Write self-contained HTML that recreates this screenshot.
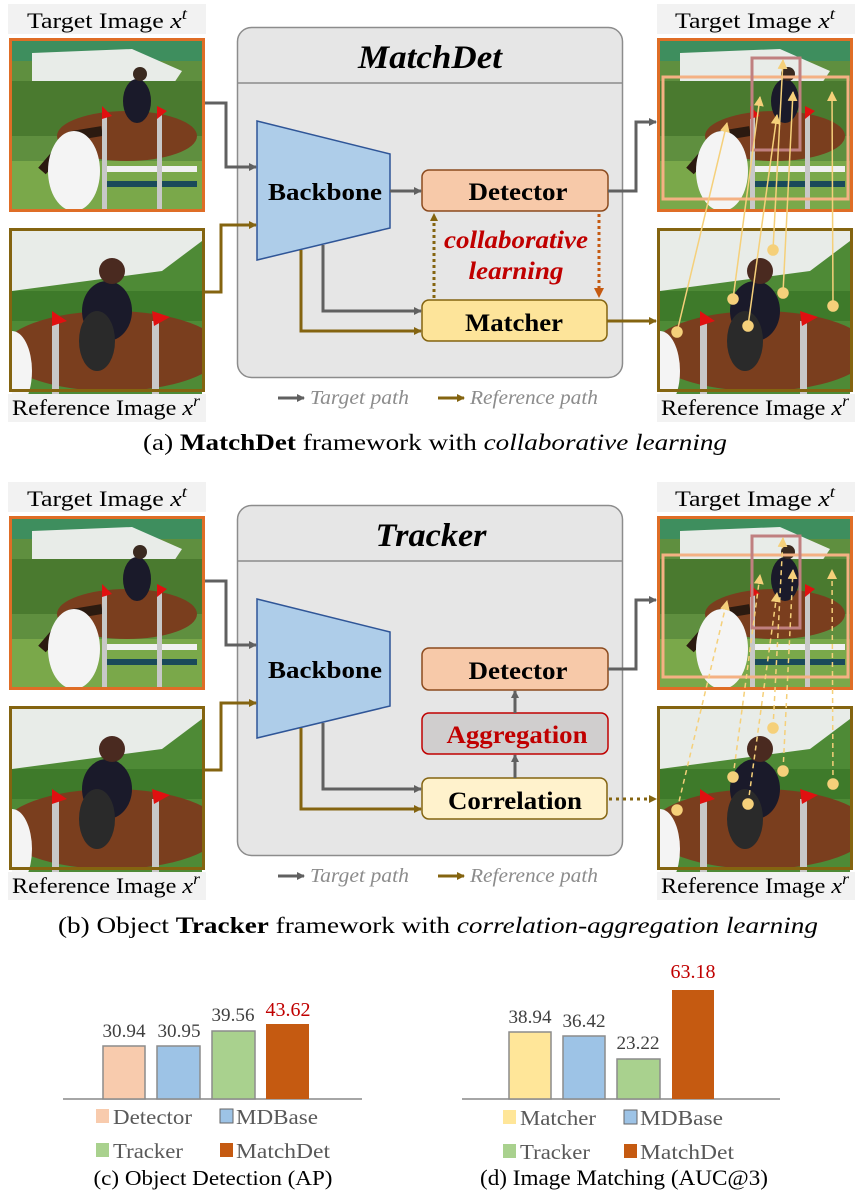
<!DOCTYPE html>
<html><head><meta charset="utf-8"><style>
html,body{margin:0;padding:0;background:#fff;}
svg{display:block;font-family:"Liberation Serif",serif;}
</style></head><body>
<svg width="859" height="1194" viewBox="0 0 859 1194" xmlns="http://www.w3.org/2000/svg">
<defs>
<marker id="ag" markerWidth="8" markerHeight="8" refX="7" refY="4" orient="auto" markerUnits="userSpaceOnUse"><path d="M0,0 L8,4 L0,8 z" fill="#606060"/></marker>
<marker id="ao" markerWidth="8" markerHeight="8" refX="7" refY="4" orient="auto" markerUnits="userSpaceOnUse"><path d="M0,0 L8,4 L0,8 z" fill="#846410"/></marker>
<marker id="ar" markerWidth="10" markerHeight="10" refX="9" refY="5" orient="auto" markerUnits="userSpaceOnUse"><path d="M0,0 L10,5 L0,10 z" fill="#c55a11"/></marker>
<marker id="ay" markerWidth="10" markerHeight="10" refX="9" refY="5" orient="auto" markerUnits="userSpaceOnUse"><path d="M0,0 L10,5 L0,10 z" fill="#f5d07a"/></marker>
<clipPath id="cp"><rect x="0" y="0" width="190" height="168"/></clipPath>
<g id="phT">
 <g clip-path="url(#cp)">
 <rect width="190" height="168" fill="#5f8f3f"/>
 <rect width="190" height="20" fill="#3e8e5e"/>
 <polygon points="20,12 120,8 170,30 160,45 40,50 20,40" fill="#e8ece8"/>
 <rect x="0" y="40" width="190" height="55" fill="#4a7a2f"/>
 <rect x="0" y="120" width="190" height="48" fill="#7aa84a"/>
 <ellipse cx="115" cy="95" rx="70" ry="25" fill="#7a3e1e"/>
 <path d="M30,130 L60,95 L90,90" stroke="#2b1a10" stroke-width="10" fill="none"/>
 <ellipse cx="125" cy="60" rx="14" ry="22" fill="#1a1a2a"/>
 <circle cx="128" cy="33" r="7" fill="#3a2a20"/>
 <ellipse cx="62" cy="130" rx="26" ry="40" fill="#f4f4f4"/>
 <rect x="95" y="125" width="90" height="6" fill="#f0f0f0"/>
 <rect x="95" y="140" width="90" height="6" fill="#1a4a5a"/>
 <rect x="90" y="70" width="5" height="98" fill="#c8c8c8"/>
 <rect x="145" y="70" width="5" height="98" fill="#c8c8c8"/>
 <polygon points="90,65 100,75 90,78" fill="#e01010"/>
 <polygon points="145,65 155,70 145,78" fill="#e01010"/>
 </g>
</g>
<g id="phR">
 <g clip-path="url(#cp)">
 <rect width="190" height="168" fill="#4e8a36"/>
 <polygon points="0,0 190,0 190,10 150,40 0,60" fill="#e8ece8"/>
 <rect x="0" y="60" width="190" height="30" fill="#3e7a2a"/>
 <ellipse cx="100" cy="120" rx="110" ry="40" fill="#7a3e1e"/>
 <ellipse cx="95" cy="80" rx="25" ry="30" fill="#1a1a2a"/>
 <circle cx="100" cy="40" r="13" fill="#4a2a20"/>
 <ellipse cx="85" cy="110" rx="18" ry="30" fill="#2a2a2a"/>
 <ellipse cx="0" cy="140" rx="20" ry="40" fill="#f4f4f4"/>
 <rect x="40" y="90" width="7" height="78" fill="#c8c8c8"/>
 <rect x="140" y="90" width="7" height="78" fill="#c8c8c8"/>
 <polygon points="40,80 55,90 40,95" fill="#e01010"/>
 <polygon points="140,80 158,86 142,95" fill="#e01010"/>
 </g>
</g>
</defs>

<g id="panelA">
 <rect x="8" y="4" width="198" height="30" fill="#f2f2f2"/>
 <text x="107" y="28" font-size="22" text-anchor="middle" textLength="160" lengthAdjust="spacingAndGlyphs">Target Image <tspan font-style="italic">x</tspan><tspan font-style="italic" font-size="16" dy="-9">t</tspan></text>
 <use href="#phT" x="12" y="41"/>
 <rect x="10.5" y="39.5" width="193" height="171" fill="none" stroke="#df6d26" stroke-width="3"/>
 <use href="#phR" x="12" y="231"/>
 <rect x="10.5" y="229.5" width="193" height="161" fill="none" stroke="#846410" stroke-width="3"/>
 <rect x="8" y="394" width="198" height="28" fill="#f2f2f2"/>
 <text x="106" y="415" font-size="22" text-anchor="middle" textLength="188" lengthAdjust="spacingAndGlyphs">Reference Image <tspan font-style="italic">x</tspan><tspan font-style="italic" font-size="16" dy="-9">r</tspan></text>

 <rect x="237.5" y="27.5" width="385" height="350" rx="14" fill="#e6e6e6" stroke="#8c8c8c" stroke-width="1.5"/>
 <line x1="237.5" y1="83" x2="622.5" y2="83" stroke="#8c8c8c" stroke-width="1.5"/>
 <text x="430" y="68" font-size="33" font-weight="bold" font-style="italic" text-anchor="middle" textLength="144" lengthAdjust="spacingAndGlyphs">MatchDet</text>
 <polygon points="257,121 390,154 390,228 257,260" fill="#aecde9" stroke="#2f5597" stroke-width="1.5"/>
 <text x="325" y="200" font-size="24" font-weight="bold" text-anchor="middle" textLength="114" lengthAdjust="spacingAndGlyphs">Backbone</text>
 <rect x="422" y="170" width="186" height="41" rx="7" fill="#f7c9a9" stroke="#8b4a1e" stroke-width="1.5"/>
 <text x="518" y="200" font-size="25" font-weight="bold" text-anchor="middle" textLength="99" lengthAdjust="spacingAndGlyphs">Detector</text>
 <rect x="422" y="300" width="185" height="41" rx="7" fill="#fde49a" stroke="#846410" stroke-width="1.5"/>
 <text x="514" y="331" font-size="25" font-weight="bold" text-anchor="middle" textLength="98" lengthAdjust="spacingAndGlyphs">Matcher</text>
 <text x="516" y="248" font-size="25" font-weight="bold" font-style="italic" fill="#c00000" text-anchor="middle" textLength="144" lengthAdjust="spacingAndGlyphs">collaborative</text>
 <text x="516" y="279" font-size="25" font-weight="bold" font-style="italic" fill="#c00000" text-anchor="middle" textLength="95" lengthAdjust="spacingAndGlyphs">learning</text>
 <line x1="434" y1="298" x2="434" y2="214" stroke="#846410" stroke-width="3" stroke-dasharray="3,3" marker-end="url(#ao)"/>
 <line x1="599" y1="214" x2="599" y2="297" stroke="#c55a11" stroke-width="3" stroke-dasharray="3,3" marker-end="url(#ar)"/>

 <polyline points="205,103 226,103 226,167 256,167" fill="none" stroke="#606060" stroke-width="3" marker-end="url(#ag)"/>
 <polyline points="205,292 221,292 221,225 256,225" fill="none" stroke="#846410" stroke-width="3" marker-end="url(#ao)"/>
 <line x1="390" y1="191" x2="421" y2="191" stroke="#606060" stroke-width="3" marker-end="url(#ag)"/>
 <polyline points="323,245 323,311 421,311" fill="none" stroke="#606060" stroke-width="3" marker-end="url(#ag)"/>
 <polyline points="301,250 301,331 421,331" fill="none" stroke="#846410" stroke-width="3" marker-end="url(#ao)"/>
 <polyline points="608,191 636,191 636,122 656,122" fill="none" stroke="#606060" stroke-width="3" marker-end="url(#ag)"/>
 <line x1="607" y1="321" x2="656" y2="321" stroke="#846410" stroke-width="3" marker-end="url(#ao)"/>

 <line x1="278" y1="398" x2="304" y2="398" stroke="#606060" stroke-width="3" marker-end="url(#ag)"/>
 <text x="310" y="404" font-size="20" font-style="italic" fill="#8c8c8c" textLength="99" lengthAdjust="spacingAndGlyphs">Target path</text>
 <line x1="438" y1="398" x2="464" y2="398" stroke="#846410" stroke-width="3" marker-end="url(#ao)"/>
 <text x="470" y="404" font-size="20" font-style="italic" fill="#8c8c8c" textLength="128" lengthAdjust="spacingAndGlyphs">Reference path</text>

 <rect x="657" y="4" width="198" height="30" fill="#f2f2f2"/>
 <text x="755" y="28" font-size="22" text-anchor="middle" textLength="160" lengthAdjust="spacingAndGlyphs">Target Image <tspan font-style="italic">x</tspan><tspan font-style="italic" font-size="16" dy="-9">t</tspan></text>
 <use href="#phT" x="660" y="41"/>
 <rect x="658.5" y="39.5" width="193" height="171" fill="none" stroke="#df6d26" stroke-width="3"/>
 <rect x="663" y="77" width="185" height="122" fill="none" stroke="#f4b183" stroke-width="3"/>
 <rect x="752" y="58" width="48" height="92" fill="none" stroke="#c08080" stroke-width="3"/>
 <use href="#phR" x="660" y="231"/>
 <rect x="658.5" y="229.5" width="193" height="161" fill="none" stroke="#846410" stroke-width="3"/>
 <rect x="657" y="394" width="198" height="28" fill="#f2f2f2"/>
 <text x="755" y="415" font-size="22" text-anchor="middle" textLength="188" lengthAdjust="spacingAndGlyphs">Reference Image <tspan font-style="italic">x</tspan><tspan font-style="italic" font-size="16" dy="-9">r</tspan></text>
 <g stroke="#f5d07a" stroke-width="1.5" fill="#f5d07a">
  <line x1="677" y1="332" x2="727" y2="123" marker-end="url(#ay)"/>
  <line x1="733" y1="299" x2="760" y2="97" marker-end="url(#ay)"/>
  <line x1="773" y1="250" x2="783" y2="60" marker-end="url(#ay)"/>
  <line x1="783" y1="293" x2="793" y2="92" marker-end="url(#ay)"/>
  <line x1="748" y1="326" x2="777" y2="115" marker-end="url(#ay)"/>
  <line x1="833" y1="306" x2="832" y2="92" marker-end="url(#ay)"/>
  <circle cx="677" cy="332" r="5"/><circle cx="733" cy="299" r="5"/><circle cx="773" cy="250" r="5"/>
  <circle cx="783" cy="293" r="5"/><circle cx="748" cy="326" r="5"/><circle cx="833" cy="306" r="5"/>
 </g>
 <text x="435" y="450" font-size="23" text-anchor="middle" textLength="584" lengthAdjust="spacingAndGlyphs">(a) <tspan font-weight="bold">MatchDet</tspan> framework with <tspan font-style="italic">collaborative learning</tspan></text>
</g>

<g id="panelB" transform="translate(0,478)">
 <rect x="8" y="4" width="198" height="30" fill="#f2f2f2"/>
 <text x="107" y="28" font-size="22" text-anchor="middle" textLength="160" lengthAdjust="spacingAndGlyphs">Target Image <tspan font-style="italic">x</tspan><tspan font-style="italic" font-size="16" dy="-9">t</tspan></text>
 <use href="#phT" x="12" y="41"/>
 <rect x="10.5" y="39.5" width="193" height="171" fill="none" stroke="#df6d26" stroke-width="3"/>
 <use href="#phR" x="12" y="231"/>
 <rect x="10.5" y="229.5" width="193" height="161" fill="none" stroke="#846410" stroke-width="3"/>
 <rect x="8" y="394" width="198" height="28" fill="#f2f2f2"/>
 <text x="106" y="415" font-size="22" text-anchor="middle" textLength="188" lengthAdjust="spacingAndGlyphs">Reference Image <tspan font-style="italic">x</tspan><tspan font-style="italic" font-size="16" dy="-9">r</tspan></text>

 <rect x="237.5" y="27.5" width="385" height="350" rx="14" fill="#e6e6e6" stroke="#8c8c8c" stroke-width="1.5"/>
 <line x1="237.5" y1="83" x2="622.5" y2="83" stroke="#8c8c8c" stroke-width="1.5"/>
 <text x="431" y="68" font-size="33" font-weight="bold" font-style="italic" text-anchor="middle" textLength="111" lengthAdjust="spacingAndGlyphs">Tracker</text>
 <polygon points="257,121 390,154 390,228 257,260" fill="#aecde9" stroke="#2f5597" stroke-width="1.5"/>
 <text x="325" y="200" font-size="24" font-weight="bold" text-anchor="middle" textLength="114" lengthAdjust="spacingAndGlyphs">Backbone</text>
 <rect x="422" y="170" width="186" height="42" rx="7" fill="#f7c9a9" stroke="#8b4a1e" stroke-width="1.5"/>
 <text x="518" y="201" font-size="25" font-weight="bold" text-anchor="middle" textLength="99" lengthAdjust="spacingAndGlyphs">Detector</text>
 <rect x="422" y="235" width="186" height="41" rx="7" fill="#d0cece" stroke="#c00000" stroke-width="1.5"/>
 <text x="517" y="265" font-size="25" font-weight="bold" fill="#c00000" text-anchor="middle" textLength="141" lengthAdjust="spacingAndGlyphs">Aggregation</text>
 <rect x="422" y="300" width="185" height="41" rx="7" fill="#fff2cc" stroke="#846410" stroke-width="1.5"/>
 <text x="515" y="331" font-size="25" font-weight="bold" text-anchor="middle" textLength="134" lengthAdjust="spacingAndGlyphs">Correlation</text>
 <line x1="515" y1="235" x2="515" y2="213" stroke="#606060" stroke-width="3" marker-end="url(#ag)"/>
 <line x1="515" y1="300" x2="515" y2="277" stroke="#606060" stroke-width="3" marker-end="url(#ag)"/>

 <polyline points="205,103 226,103 226,167 256,167" fill="none" stroke="#606060" stroke-width="3" marker-end="url(#ag)"/>
 <polyline points="205,292 221,292 221,225 256,225" fill="none" stroke="#846410" stroke-width="3" marker-end="url(#ao)"/>
 <polyline points="323,245 323,311 421,311" fill="none" stroke="#606060" stroke-width="3" marker-end="url(#ag)"/>
 <polyline points="301,250 301,331 421,331" fill="none" stroke="#846410" stroke-width="3" marker-end="url(#ao)"/>
 <polyline points="608,191 636,191 636,122 656,122" fill="none" stroke="#606060" stroke-width="3" marker-end="url(#ag)"/>
 <line x1="609" y1="321" x2="656" y2="321" stroke="#846410" stroke-width="3" stroke-dasharray="3,4" marker-end="url(#ao)"/>

 <line x1="278" y1="398" x2="304" y2="398" stroke="#606060" stroke-width="3" marker-end="url(#ag)"/>
 <text x="310" y="404" font-size="20" font-style="italic" fill="#8c8c8c" textLength="99" lengthAdjust="spacingAndGlyphs">Target path</text>
 <line x1="438" y1="398" x2="464" y2="398" stroke="#846410" stroke-width="3" marker-end="url(#ao)"/>
 <text x="470" y="404" font-size="20" font-style="italic" fill="#8c8c8c" textLength="128" lengthAdjust="spacingAndGlyphs">Reference path</text>

 <rect x="657" y="4" width="198" height="30" fill="#f2f2f2"/>
 <text x="755" y="28" font-size="22" text-anchor="middle" textLength="160" lengthAdjust="spacingAndGlyphs">Target Image <tspan font-style="italic">x</tspan><tspan font-style="italic" font-size="16" dy="-9">t</tspan></text>
 <use href="#phT" x="660" y="41"/>
 <rect x="658.5" y="39.5" width="193" height="171" fill="none" stroke="#df6d26" stroke-width="3"/>
 <rect x="663" y="77" width="185" height="122" fill="none" stroke="#f4b183" stroke-width="3"/>
 <rect x="752" y="58" width="48" height="92" fill="none" stroke="#c08080" stroke-width="3"/>
 <use href="#phR" x="660" y="231"/>
 <rect x="658.5" y="229.5" width="193" height="161" fill="none" stroke="#846410" stroke-width="3"/>
 <rect x="657" y="394" width="198" height="28" fill="#f2f2f2"/>
 <text x="755" y="415" font-size="22" text-anchor="middle" textLength="188" lengthAdjust="spacingAndGlyphs">Reference Image <tspan font-style="italic">x</tspan><tspan font-style="italic" font-size="16" dy="-9">r</tspan></text>
 <g stroke="#f5d07a" stroke-width="1.5" fill="#f5d07a">
  <g stroke-dasharray="5,4">
  <line x1="677" y1="332" x2="727" y2="123" marker-end="url(#ay)"/>
  <line x1="733" y1="299" x2="760" y2="97" marker-end="url(#ay)"/>
  <line x1="773" y1="250" x2="783" y2="60" marker-end="url(#ay)"/>
  <line x1="783" y1="293" x2="793" y2="92" marker-end="url(#ay)"/>
  <line x1="748" y1="326" x2="777" y2="115" marker-end="url(#ay)"/>
  <line x1="833" y1="306" x2="832" y2="92" marker-end="url(#ay)"/>
  </g>
  <circle cx="677" cy="332" r="5"/><circle cx="733" cy="299" r="5"/><circle cx="773" cy="250" r="5"/>
  <circle cx="783" cy="293" r="5"/><circle cx="748" cy="326" r="5"/><circle cx="833" cy="306" r="5"/>
 </g>
 <text x="438" y="455" font-size="23" text-anchor="middle" textLength="760" lengthAdjust="spacingAndGlyphs">(b) Object <tspan font-weight="bold">Tracker</tspan> framework with <tspan font-style="italic">correlation-aggregation learning</tspan></text>
</g>

<g>
 <line x1="63" y1="1099" x2="362" y2="1099" stroke="#888" stroke-width="1.5"/>
 <rect x="103" y="1046" width="42" height="53" fill="#f8cbad" stroke="#8c8c8c" stroke-width="1.5"/>
 <rect x="157" y="1046" width="43" height="53" fill="#9dc3e6" stroke="#8c8c8c" stroke-width="1.5"/>
 <rect x="212" y="1031" width="43" height="68" fill="#a9d18e" stroke="#8c8c8c" stroke-width="1.5"/>
 <rect x="266" y="1024" width="43" height="75" fill="#c55a11"/>
 <g font-size="19" fill="#404040" text-anchor="middle">
  <text x="124" y="1037" textLength="43" lengthAdjust="spacingAndGlyphs">30.94</text><text x="179" y="1037" textLength="43" lengthAdjust="spacingAndGlyphs">30.95</text><text x="233" y="1021" textLength="43" lengthAdjust="spacingAndGlyphs">39.56</text>
 </g>
 <text x="288" y="1016" font-size="20" fill="#c00000" text-anchor="middle" textLength="45" lengthAdjust="spacingAndGlyphs">43.62</text>
 <g font-size="21" fill="#595959">
  <rect x="96" y="1109" width="13" height="14" fill="#f8cbad"/><text x="113" y="1124" textLength="79" lengthAdjust="spacingAndGlyphs">Detector</text>
  <rect x="220" y="1109" width="13" height="14" fill="#9dc3e6" stroke="#666"/><text x="236" y="1124" textLength="82" lengthAdjust="spacingAndGlyphs">MDBase</text>
  <rect x="96" y="1143" width="13" height="14" fill="#a9d18e"/><text x="113" y="1158" textLength="70" lengthAdjust="spacingAndGlyphs">Tracker</text>
  <rect x="220" y="1143" width="13" height="14" fill="#c55a11"/><text x="236" y="1158" textLength="94" lengthAdjust="spacingAndGlyphs">MatchDet</text>
 </g>
 <text x="213" y="1185" font-size="21" text-anchor="middle" textLength="239" lengthAdjust="spacingAndGlyphs">(c) Object Detection (AP)</text>
</g>

<g>
 <line x1="462" y1="1099" x2="780" y2="1099" stroke="#888" stroke-width="1.5"/>
 <rect x="509" y="1032" width="42" height="67" fill="#ffe699" stroke="#8c8c8c" stroke-width="1.5"/>
 <rect x="563" y="1036" width="42" height="63" fill="#9dc3e6" stroke="#8c8c8c" stroke-width="1.5"/>
 <rect x="617" y="1059" width="43" height="40" fill="#a9d18e" stroke="#8c8c8c" stroke-width="1.5"/>
 <rect x="672" y="990" width="42" height="109" fill="#c55a11"/>
 <g font-size="19" fill="#404040" text-anchor="middle">
  <text x="530" y="1023" textLength="43" lengthAdjust="spacingAndGlyphs">38.94</text><text x="584" y="1027" textLength="43" lengthAdjust="spacingAndGlyphs">36.42</text><text x="638" y="1049" textLength="43" lengthAdjust="spacingAndGlyphs">23.22</text>
 </g>
 <text x="693" y="978" font-size="20" fill="#c00000" text-anchor="middle" textLength="45" lengthAdjust="spacingAndGlyphs">63.18</text>
 <g font-size="21" fill="#595959">
  <rect x="503" y="1110" width="13" height="14" fill="#ffe699"/><text x="520" y="1125" textLength="76" lengthAdjust="spacingAndGlyphs">Matcher</text>
  <rect x="624" y="1110" width="13" height="14" fill="#9dc3e6" stroke="#666"/><text x="640" y="1125" textLength="83" lengthAdjust="spacingAndGlyphs">MDBase</text>
  <rect x="503" y="1144" width="13" height="14" fill="#a9d18e"/><text x="520" y="1159" textLength="70" lengthAdjust="spacingAndGlyphs">Tracker</text>
  <rect x="624" y="1144" width="13" height="14" fill="#c55a11"/><text x="640" y="1159" textLength="94" lengthAdjust="spacingAndGlyphs">MatchDet</text>
 </g>
 <text x="624" y="1185" font-size="22" text-anchor="middle" textLength="288" lengthAdjust="spacingAndGlyphs">(d) Image Matching (AUC@3)</text>
</g>
</svg>
</body></html>
